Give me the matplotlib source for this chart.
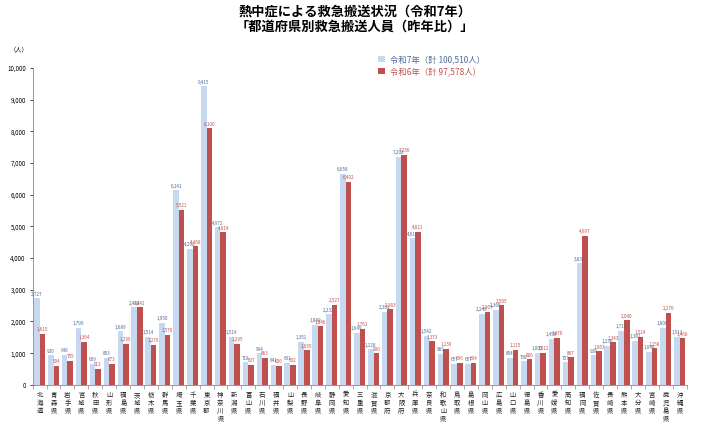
import numpy as np
import matplotlib.pyplot as plt

plt.rcParams['font.family'] = ['Noto Sans CJK JP', 'DejaVu Sans']

# Data
prefs = ['北海道', '青森県', '岩手県', '宮城県', '秋田県', '山形県', '福島県', '茨城県', '栃木県', '群馬県',
         '埼玉県', '千葉県', '東京都', '神奈川県', '新潟県', '富山県', '石川県', '福井県', '山梨県', '長野県',
         '岐阜県', '静岡県', '愛知県', '三重県', '滋賀県', '京都府', '大阪府', '兵庫県', '奈良県', '和歌山県',
         '鳥取県', '島根県', '岡山県', '広島県', '山口県', '徳島県', '香川県', '愛媛県', '高知県', '福岡県',
         '佐賀県', '長崎県', '熊本県', '大分県', '宮崎県', '鹿児島県', '沖縄県']
r7 = [2727, 930, 948, 1799, 669, 853, 1689, 2442, 1514, 1950,
      6141, 4292, 9415, 4972, 1514, 718, 994, 641, 691, 1351,
      1889, 2232, 6658, 1649, 1128, 2301, 7202, 4619, 1542, 985,
      657, 657, 2243, 2366, 854, 738, 1005, 1459, 707, 3838,
      938, 1230, 1712, 1382, 1046, 1800, 1513]
r6 = [1615, 594, 755, 1364, 513, 673, 1296, 2441, 1270, 1576,
      5521, 4368, 8100, 4814, 1295, 637, 863, 606, 632, 1095,
      1846, 2527, 6402, 1761, 990, 2383, 7256, 4821, 1373, 1139,
      696, 694, 2307, 2505, 1115, 806, 1012, 1476, 867, 4697,
      1063, 1343, 2040, 1524, 1158, 2276, 1468]
label_r7 = '令和7年（計 100,510人）'
label_r6 = '令和6年（計 97,578人）'

c7 = '#C6D9F1'
c6 = '#C0504D'
t7 = '#4A6A96'

fig = plt.figure(figsize=(7.1, 4.3), dpi=100)
ax = fig.add_axes([0.046, 0.105, 0.921, 0.737])

x = np.arange(len(prefs))
w = 0.4
b7 = ax.bar(x - w/2, r7, w, color=c7, label=label_r7)
b6 = ax.bar(x + w/2, r6, w, color=c6, label=label_r6)

# value labels (small, they crowd each other just like the original)
for xi, v in zip(x, r7):
    ax.text(xi - w/2, v + 50, f'{v:,}', ha='center', va='bottom', fontsize=3.3, color=t7)
for xi, v in zip(x, r6):
    ax.text(xi + w/2, v + 50, f'{v:,}', ha='center', va='bottom', fontsize=3.3, color=c6)

ax.set_xlim(-0.5, len(prefs) - 0.5)
ax.set_ylim(0, 10000)
ax.set_yticks(np.arange(0, 10001, 1000))
ax.set_yticklabels([f'{v:,}' for v in range(0, 10001, 1000)], fontsize=4.5)
ax.tick_params(axis='y', length=2, width=0.5, pad=3)

# group boundary ticks on x axis, prefecture names written vertically
ax.set_xticks(np.arange(-0.5, len(prefs)))
ax.set_xticklabels([])
ax.tick_params(axis='x', length=3, width=0.5, color='#888888')
for xi, name in zip(x, prefs):
    ax.text(xi, -180, '\n'.join(name), ha='center', va='top', fontsize=4.6,
            linespacing=1.05, color='#222222')

for s in ['top', 'right']:
    ax.spines[s].set_visible(False)
for s in ['left', 'bottom']:
    ax.spines[s].set_color('#888888')
    ax.spines[s].set_linewidth(0.6)

fig.text(0.5, 0.99, '熱中症による救急搬送状況（令和7年）', ha='center', va='top',
         fontsize=9.5, fontweight='bold')
fig.text(0.5, 0.955, '「都道府県別救急搬送人員（昨年比）」', ha='center', va='top',
         fontsize=9.5, fontweight='bold')
fig.text(0.014, 0.885, '（人）', fontsize=4.5, va='center')

ax.legend(handles=[b7, b6], loc='upper left', bbox_to_anchor=(0.528, 0.88),
          bbox_transform=fig.transFigure, frameon=False, fontsize=6,
          labelcolor=[t7, c6], handlelength=0.8, handleheight=0.8,
          handletextpad=0.6, labelspacing=0.35, borderaxespad=0)

fig.savefig('out.png', dpi=100)
